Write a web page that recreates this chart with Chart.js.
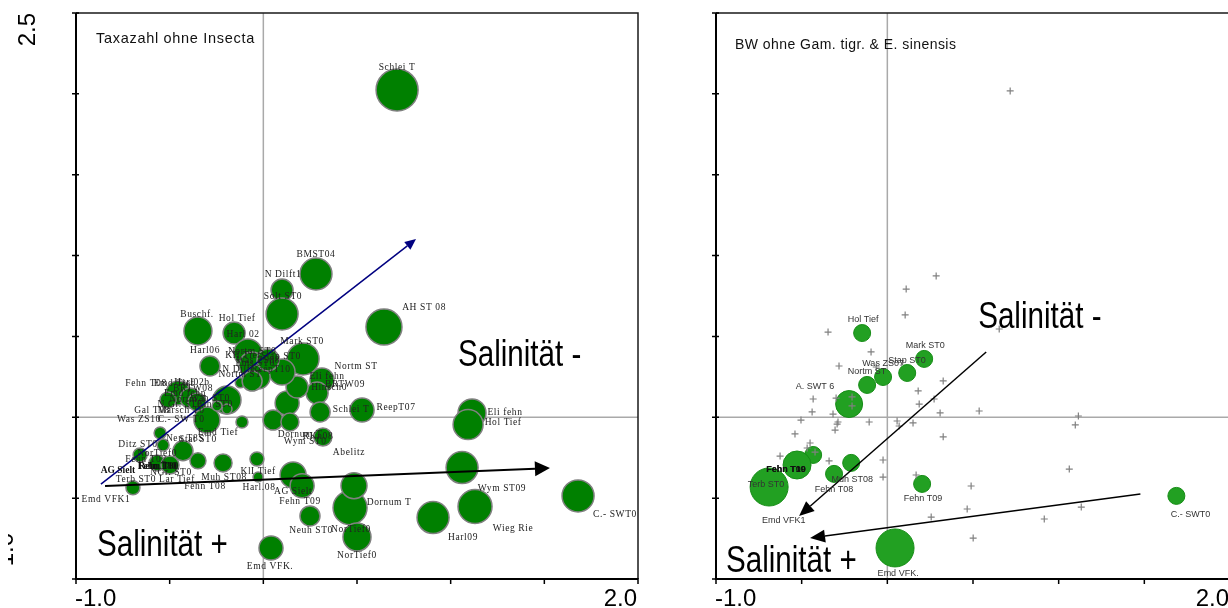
<!DOCTYPE html>
<html>
<head>
<meta charset="utf-8">
<script src="https://cdn.jsdelivr.net/npm/chart.js@4.4.0/dist/chart.umd.min.js"></script>
<style>
  html, body { margin: 0; padding: 0; background: #fff; overflow: hidden; width: 1228px; height: 608px; }
  canvas { position: absolute; top: 0; }
  #left { left: 0; }
  #right { left: 680px; }
</style>
</head>
<body>
<canvas id="left" width="680" height="608"></canvas>
<canvas id="right" width="560" height="608"></canvas>
<script>
// axes
const xTicks = [-1, -0.5, 0, 0.5, 1, 1.5, 2];
const yTicks = [-1, -0.5, 0, 0.5, 1, 1.5, 2, 2.5];
const xTickLabels = ['-1.0', '2.0'];
const xTickLabelValues = [-1, 2];
const yTickLabels = ['2.5', '-1.0'];
const yTickLabelValues = [2.5, -1];

// left panel: sites (Taxazahl ohne Insecta)
const leftSiteX = [0.714, 0.281, 0.100, 0.100, 0.644, -0.349, -0.156, -0.082, -0.285, 0.212, 0.313, 0.287, 0.303, 0.527, 0.127, 0.180, 0.100, 1.114, 1.093, 1.061, 1.130, 0.906, 1.680, 0.463, 0.484, 0.500, 0.249, 0.318, 0.159, 0.207, 0.041, -0.034, -0.028, -0.215, -0.349, -0.429, -0.696, -0.301, -0.123, -0.060, -0.028, 0.025, -0.060, -0.194, -0.114, -0.247, -0.194, -0.455, -0.391, -0.354, -0.509, -0.551, -0.658, -0.567, -0.498, -0.535, 0.052, 0.142];
const leftSiteY = [2.024, 0.886, 0.787, 0.639, 0.558, 0.534, 0.521, 0.398, 0.317, 0.361, 0.231, 0.150, 0.033, 0.045, 0.088, 0.187, 0.280, 0.027, -0.045, -0.311, -0.552, -0.620, -0.486, -0.559, -0.423, -0.740, -0.610, -0.122, -0.357, -0.423, -0.808, -0.258, -0.369, -0.282, -0.269, -0.207, -0.436, -0.017, 0.213, 0.323, 0.249, 0.355, 0.224, 0.107, -0.029, 0.070, 0.051, 0.150, 0.119, 0.095, 0.107, -0.097, -0.233, -0.282, -0.295, -0.172, -0.017, -0.029];
const leftSiteR = [21, 16, 11, 16, 18, 14, 11, 14, 10, 16, 12, 11, 10, 12, 12, 11, 13, 14, 15, 16, 17, 16, 16, 17, 13, 14, 10, 9, 13, 12, 12, 7, 5, 9, 8, 10, 7, 13, 5, 13, 12, 11, 10, 14, 6, 5, 5, 12, 10, 9, 8, 6, 7, 8, 9, 6, 10, 9];

const leftLabelText = ['Schlei T', 'BMST04', 'N Dilft1', 'Solt ST0', 'AH ST 08', 'Buschf.', 'Hol Tief', 'Harl 02', 'Harl06', 'Mark ST0', 'Nortm ST', 'Eli fehn', 'Hinsch0', 'BRTW09', 'Schlei T', 'ReepT07', 'Eli fehn', 'Hol Tief', 'Wym ST09', 'Wieg Rie', 'Harl09', 'C.- SWT0', 'Dornum T', 'NorTief0', 'NorTief0', 'Neuh ST0', 'Fehn T09', 'AG Sielt', 'Emd VFK.', 'Abelitz', 'Dornum T', 'Wym ST0', 'RKn08', 'KlI Tief', 'Harl.08', 'Muh ST08', 'Fehn T08', 'Lar Tief', 'NGr. ST0', 'Terb ST0', 'Emd VFK1', 'Fehn T02', 'NorTief0', 'Ditz ST0', 'Neu T8S', 'Stat ST0', 'Emd Tief', 'Gal T08', 'Marsch T0', 'Was ZS10', 'C.- SW T0', 'Fehn T08', 'Emd Tief', 'Harl02b', 'BRTW08', 'Emd fehn', 'Nortm T', 'N Gr. ST0', 'Wan ST0', 'Ein ST0', 'Nortm ST0', 'KH Tief', 'Stap ST0', 'Was ZS08', 'Ems ST0', 'N Dilft', 'ReepT10', 'Nortm ST'];
const leftLabelX = [0.714, 0.281, 0.105, 0.105, 0.858, -0.354, -0.140, -0.108, -0.311, 0.207, 0.495, 0.340, 0.351, 0.436, 0.468, 0.708, 1.290, 1.280, 1.274, 1.333, 1.066, 1.877, 0.671, 0.500, 0.468, 0.255, 0.196, 0.159, 0.036, 0.457, 0.196, 0.223, 0.292, -0.028, -0.023, -0.210, -0.311, -0.461, -0.493, -0.680, -0.840, -0.626, -0.567, -0.669, -0.418, -0.349, -0.242, -0.594, -0.439, -0.664, -0.439, -0.626, -0.477, -0.381, -0.375, -0.418, -0.402, -0.445, -0.285, -0.258, -0.060, -0.108, 0.094, -0.028, -0.044, -0.135, 0.041, -0.124];
const leftLabelY = [2.166, 1.004, 0.886, 0.744, 0.676, 0.633, 0.608, 0.515, 0.410, 0.466, 0.317, 0.255, 0.187, 0.200, 0.051, 0.058, 0.027, -0.035, -0.443, -0.685, -0.746, -0.604, -0.530, -0.852, -0.691, -0.703, -0.518, -0.462, -0.920, -0.215, -0.109, -0.147, -0.116, -0.338, -0.437, -0.375, -0.431, -0.382, -0.344, -0.382, -0.511, -0.264, -0.227, -0.171, -0.134, -0.140, -0.097, 0.045, 0.045, -0.011, -0.011, 0.212, 0.212, 0.218, 0.175, 0.144, 0.113, 0.082, 0.119, 0.082, 0.404, 0.379, 0.373, 0.354, 0.330, 0.293, 0.293, 0.262];
const leftBoldText = ['AG Sielt', 'Fehn T80', 'Rehn T80'];
const leftBoldX = [-0.776, -0.567, -0.560];
const leftBoldY = [-0.332, -0.307, -0.307];

// left panel: environmental vectors
const blueArrowX = [-0.867, 0.815];
const blueArrowY = [-0.413, 1.102];
const blackArrowX = [-0.845, 1.530];
const blackArrowY = [-0.425, -0.314];

// right panel: species (crosses) and sites
const speciesX = [0.110, 0.104, -0.346, -0.095, -0.282, -0.065, 0.326, 0.180, -0.433, -0.299, -0.206, 0.186, 0.273, -0.439, -0.317, 0.308, 0.536, -0.504, -0.288, -0.293, -0.106, 0.057, 0.069, 0.150, -0.305, -0.539, 0.326, -0.451, -0.468, -0.626, -0.422, -0.340, -0.025, -0.025, 0.168, 0.489, 0.466, 0.256, 0.501, -0.206, 0.653, 1.115, 1.097, 1.062, 1.132, 0.916, 0.717, 0.285];
const speciesY = [0.793, 0.633, 0.527, 0.404, 0.317, 0.311, 0.225, 0.163, 0.113, 0.119, 0.126, 0.082, 0.113, 0.033, 0.020, 0.027, 0.039, -0.017, -0.029, -0.042, -0.029, -0.023, -0.054, -0.035, -0.079, -0.103, -0.121, -0.159, -0.190, -0.240, -0.215, -0.270, -0.264, -0.370, -0.357, -0.425, -0.567, -0.617, -0.747, 0.070, 0.546, 0.008, -0.047, -0.320, -0.555, -0.629, 2.018, 0.874];

const rightSiteX = [-0.147, 0.215, 0.116, -0.025, -0.118, -0.223, -0.433, -0.527, -0.690, -0.211, -0.311, 0.203, 0.045, 1.687];
const rightSiteY = [0.521, 0.361, 0.274, 0.249, 0.200, 0.082, -0.233, -0.295, -0.431, -0.282, -0.350, -0.412, -0.808, -0.486];
const rightSiteR = [8.5, 8.5, 8.5, 8.5, 8.5, 13.5, 8.5, 14, 19, 8.5, 8.5, 8.5, 19, 8.5];

const rightLabelText = ['Hol Tief', 'Mark ST0', 'Stap ST0', 'Was ZS07', 'Nortm ST', 'A. SWT 6', 'Terb ST0', 'Muh ST08', 'Fehn T08', 'Fehn T09', 'Emd VFK1', 'Emd VFK.', 'C.- SWT0'];
const rightLabelX = [-0.141, 0.221, 0.115, -0.025, -0.118, -0.422, -0.708, -0.205, -0.311, 0.208, -0.604, 0.063, 1.769];
const rightLabelY = [0.602, 0.441, 0.354, 0.330, 0.280, 0.188, -0.413, -0.382, -0.444, -0.505, -0.641, -0.969, -0.604];
const rightBoldText = ['Fehn T09', 'Fehn T10'];
const rightBoldX = [-0.591, -0.591];
const rightBoldY = [-0.320, -0.320];

const rightArrow1X = [0.577, -0.515];
const rightArrow1Y = [0.404, -0.610];
const rightArrow2X = [1.477, -0.451];
const rightArrow2Y = [-0.474, -0.747];

// big annotations
const noteText = ['Salinität -', 'Salinität +'];
const leftNoteX = [1.039, -0.888];
const leftNoteY = [0.316, -0.858];
const rightNoteX = [0.530, -0.942];
const rightNoteY = [0.552, -0.954];

function drawArrow(ctx, x0, y0, x1, y1, color, width, headLen, headHalf) {
  const ang = Math.atan2(y1 - y0, x1 - x0);
  const bx = x1 - Math.cos(ang) * headLen;
  const by = y1 - Math.sin(ang) * headLen;
  ctx.strokeStyle = color;
  ctx.fillStyle = color;
  ctx.lineWidth = width;
  ctx.beginPath();
  ctx.moveTo(x0, y0);
  ctx.lineTo(bx, by);
  ctx.stroke();
  ctx.beginPath();
  ctx.moveTo(x1, y1);
  ctx.lineTo(bx + Math.sin(ang) * headHalf, by - Math.cos(ang) * headHalf);
  ctx.lineTo(bx - Math.sin(ang) * headHalf, by + Math.cos(ang) * headHalf);
  ctx.closePath();
  ctx.fill();
}

function drawLabels(ctx, x, y, texts, xs, ys, font, color, spacing) {
  ctx.font = font;
  ctx.fillStyle = color;
  ctx.letterSpacing = spacing;
  ctx.textAlign = 'center';
  ctx.textBaseline = 'middle';
  texts.forEach((t, i) => {
    ctx.fillText(t, x.getPixelForValue(xs[i]), y.getPixelForValue(ys[i]));
  });
  ctx.letterSpacing = '0px';
}

function decor(cfg) {
  return {
    id: 'decor',
    beforeDatasetsDraw(chart) {
      const { ctx, chartArea: a, scales: { x, y } } = chart;
      ctx.save();
      ctx.strokeStyle = '#a9a9a9';
      ctx.lineWidth = 1.5;
      const zx = x.getPixelForValue(0);
      const zy = y.getPixelForValue(0);
      ctx.beginPath();
      ctx.moveTo(zx, a.top); ctx.lineTo(zx, a.bottom);
      ctx.moveTo(a.left, zy); ctx.lineTo(a.right, zy);
      ctx.stroke();
      ctx.restore();
    },
    afterDatasetsDraw(chart) {
      const { ctx, chartArea: a, scales: { x, y } } = chart;
      ctx.save();

      // arrows
      cfg.arrows.forEach(ar => {
        drawArrow(ctx, x.getPixelForValue(ar.x[0]), y.getPixelForValue(ar.y[0]),
          x.getPixelForValue(ar.x[1]), y.getPixelForValue(ar.y[1]),
          ar.color, ar.width, ar.head, ar.half);
      });

      // site labels
      drawLabels(ctx, x, y, cfg.labels[0], cfg.labels[1], cfg.labels[2], cfg.labelFont, cfg.labelColor, cfg.labelSpacing);
      drawLabels(ctx, x, y, cfg.bold[0], cfg.bold[1], cfg.bold[2], 'bold ' + cfg.labelFont, '#111', '0px');

      // frame
      ctx.strokeStyle = '#1a1a1a';
      ctx.lineWidth = 1.5;
      ctx.beginPath();
      ctx.moveTo(a.left, a.top); ctx.lineTo(a.right, a.top); ctx.lineTo(a.right, a.bottom);
      ctx.stroke();
      ctx.strokeStyle = '#000';
      ctx.lineWidth = 2;
      ctx.beginPath();
      ctx.moveTo(a.left, a.top); ctx.lineTo(a.left, a.bottom); ctx.lineTo(a.right, a.bottom);
      ctx.stroke();

      // ticks
      ctx.lineWidth = 1.5;
      ctx.beginPath();
      xTicks.forEach(v => {
        const px = x.getPixelForValue(v);
        ctx.moveTo(px, a.bottom - 1); ctx.lineTo(px, a.bottom + 5);
      });
      yTicks.forEach(v => {
        const py = y.getPixelForValue(v);
        ctx.moveTo(a.left - 4, py); ctx.lineTo(a.left + 3, py);
      });
      ctx.stroke();

      // tick labels
      ctx.fillStyle = '#000';
      ctx.font = '24px "Liberation Sans", Arial, sans-serif';
      ctx.textBaseline = 'alphabetic';
      ctx.textAlign = 'left';
      ctx.fillText(xTickLabels[0], x.getPixelForValue(xTickLabelValues[0]) - 1, 606);
      ctx.textAlign = 'right';
      ctx.fillText(xTickLabels[1], x.getPixelForValue(xTickLabelValues[1]) - 1, 606);

      if (cfg.yLabels) {
        ctx.save();
        ctx.translate(35, y.getPixelForValue(yTickLabelValues[0]));
        ctx.rotate(-Math.PI / 2);
        ctx.textAlign = 'right';
        ctx.fillText(yTickLabels[0], 0, 0);
        ctx.restore();
        ctx.save();
        ctx.beginPath();
        ctx.rect(8, 500, 30, 80);
        ctx.clip();
        ctx.translate(13, y.getPixelForValue(yTickLabelValues[1]) - 46);
        ctx.rotate(-Math.PI / 2);
        ctx.textAlign = 'right';
        ctx.fillText(yTickLabels[1], 0, 0);
        ctx.restore();
      }

      // title
      ctx.font = cfg.titleFont;
      ctx.letterSpacing = cfg.titleSpacing;
      ctx.fillStyle = '#111';
      ctx.textAlign = 'left';
      ctx.fillText(cfg.title, a.left + cfg.titleDx, a.top + cfg.titleDy);
      ctx.letterSpacing = '0px';

      // big notes
      ctx.font = '37px "Liberation Sans", Arial, sans-serif';
      ctx.fillStyle = '#000';
      noteText.forEach((t, i) => {
        ctx.save();
        ctx.translate(x.getPixelForValue(cfg.noteX[i]), y.getPixelForValue(cfg.noteY[i]));
        ctx.scale(0.8, 1);
        ctx.fillText(t, 0, 0);
        ctx.restore();
      });

      ctx.restore();
    }
  };
}

const baseOptions = (padLeft, padRight) => ({
  responsive: false,
  animation: false,
  events: [],
  layout: { autoPadding: false, padding: { left: padLeft, right: padRight, top: 13, bottom: 29 } },
  plugins: { legend: { display: false }, tooltip: { enabled: false } },
  scales: {
    x: { type: 'linear', min: -1, max: 2, display: false },
    y: { type: 'linear', min: -1, max: 2.5, display: false }
  }
});

new Chart(document.getElementById('left'), {
  type: 'bubble',
  data: {
    datasets: [{
      data: leftSiteX.map((v, i) => ({ x: v, y: leftSiteY[i], r: leftSiteR[i] })),
      backgroundColor: '#008000',
      borderColor: '#808080',
      borderWidth: 1.5,
      hoverRadius: 0
    }]
  },
  options: baseOptions(76, 42),
  plugins: [decor({
    title: 'Taxazahl ohne Insecta',
    titleFont: '14.5px "Liberation Sans", Arial, sans-serif',
    titleSpacing: '0.7px',
    titleDx: 20, titleDy: 30,
    labels: [leftLabelText, leftLabelX, leftLabelY],
    bold: [leftBoldText, leftBoldX, leftBoldY],
    labelFont: '9.5px "Liberation Serif", "Times New Roman", serif',
    labelColor: '#222',
    labelSpacing: '0.6px',
    arrows: [
      { x: blueArrowX, y: blueArrowY, color: '#000080', width: 1.5, head: 11, half: 5 },
      { x: blackArrowX, y: blackArrowY, color: '#000', width: 2, head: 15, half: 7.5 }
    ],
    noteX: leftNoteX, noteY: leftNoteY,
    yLabels: true
  })]
});

new Chart(document.getElementById('right'), {
  type: 'bubble',
  data: {
    datasets: [
      {
        type: 'scatter',
        data: speciesX.map((v, i) => ({ x: v, y: speciesY[i] })),
        pointStyle: 'cross',
        radius: 3.5,
        borderColor: '#808080',
        borderWidth: 1.2,
        hoverRadius: 3.5
      },
      {
        data: rightSiteX.map((v, i) => ({ x: v, y: rightSiteY[i], r: rightSiteR[i] })),
        backgroundColor: '#22a022',
        borderColor: '#168c16',
        borderWidth: 1,
        hoverRadius: 0
      }
    ]
  },
  options: baseOptions(36, 10),
  plugins: [decor({
    title: 'BW ohne Gam. tigr. & E. sinensis',
    titleFont: '14px "Liberation Sans", Arial, sans-serif',
    titleSpacing: '0.45px',
    titleDx: 19, titleDy: 36,
    labels: [rightLabelText, rightLabelX, rightLabelY],
    bold: [rightBoldText, rightBoldX, rightBoldY],
    labelFont: '9px "Liberation Sans", Arial, sans-serif',
    labelColor: '#333',
    labelSpacing: '0px',
    arrows: [
      { x: rightArrow1X, y: rightArrow1Y, color: '#000', width: 1.5, head: 15, half: 6.5 },
      { x: rightArrow2X, y: rightArrow2Y, color: '#000', width: 1.5, head: 15, half: 6.5 }
    ],
    noteX: rightNoteX, noteY: rightNoteY,
    yLabels: false
  })]
});
</script>
</body>
</html>
